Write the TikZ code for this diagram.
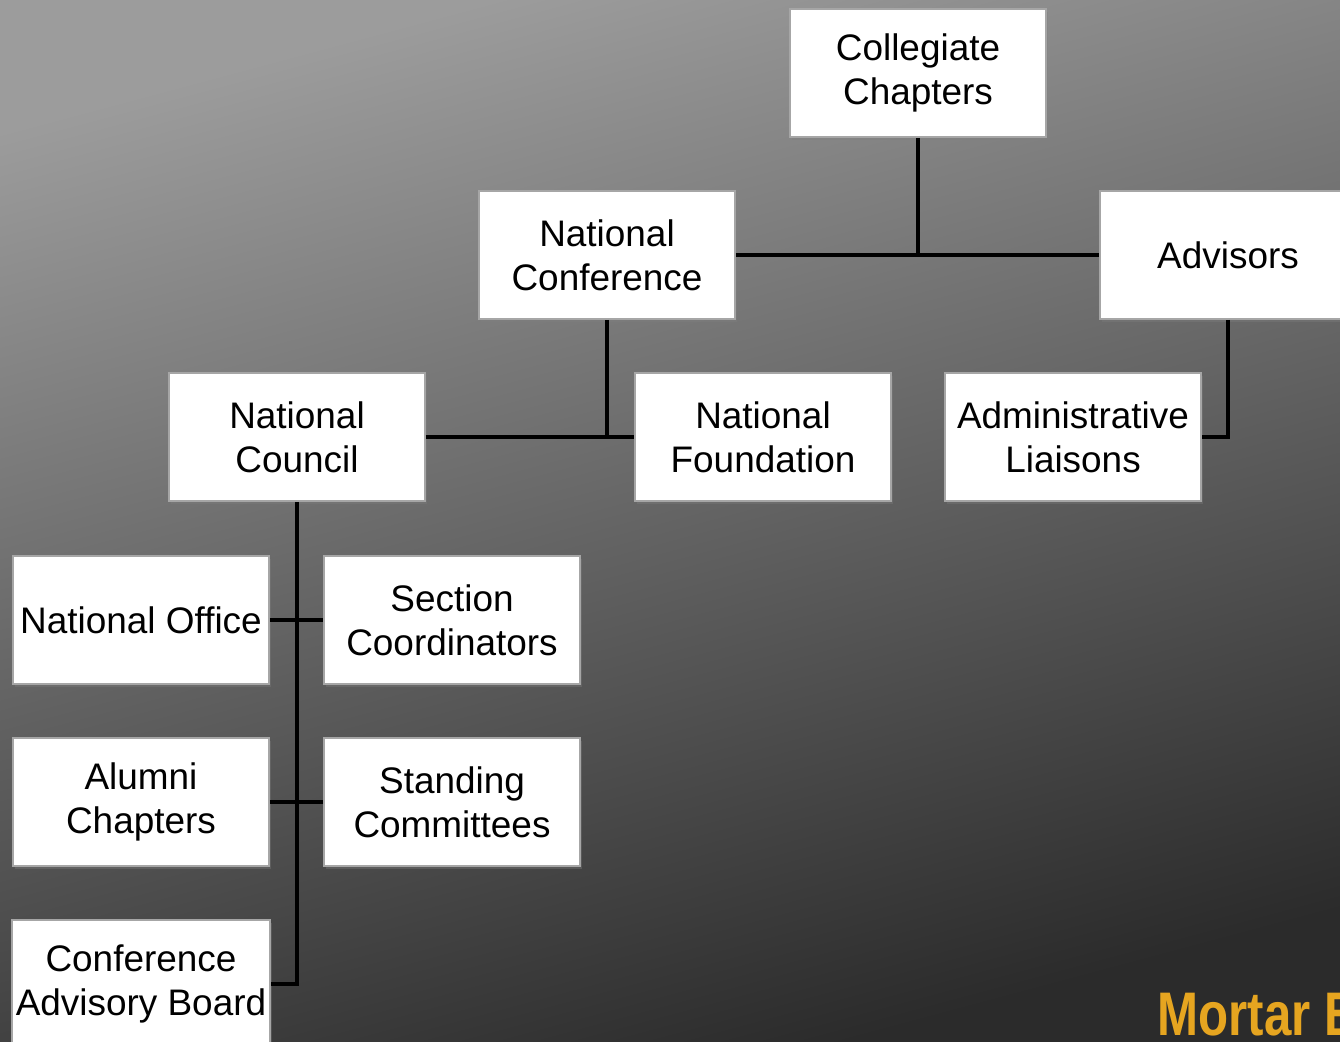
\documentclass[tikz,border=0pt]{standalone}
\usepackage{fontspec}
\setmainfont{Liberation Sans}
\newfontfamily\brandfont[FakeStretch=0.8]{Liberation Sans}
\usepackage{xcolor}
\usetikzlibrary{positioning, shadows}

\definecolor{bgtop}{HTML}{9C9C9C}
\definecolor{bgbottom}{HTML}{2B2B2B}
\definecolor{boxline}{HTML}{A6A6A6}
\definecolor{brandorange}{HTML}{E6A520}

\begin{document}
\begin{tikzpicture}[x=0.01cm, y=-0.01cm,
    unit/.style={rectangle, draw=boxline, line width=0.5pt, fill=white, minimum width=2.56cm, minimum height=1.28cm, align=center, inner sep=1pt, font=\fontsize{10.5}{12.5}\selectfont, drop shadow={shadow xshift=0.6pt, shadow yshift=-0.9pt, opacity=0.35}},
    link/.style={line width=1.4pt, black}]
    \useasboundingbox (0,0) rectangle (1340,1041);
    \clip (0,0) rectangle (1340,1041);
    \shade[top color=bgtop, bottom color=bgbottom, shading angle=15] (0,0) rectangle (1340,1041);

    % top level
    \node[unit] (cc) at (918, 73) {Collegiate\\Chapters};
    \node[unit] (nconf) at (607, 255) {National\\Conference};
    \node[unit] (adv) at (1228, 255) {Advisors};

    % second level
    \node[unit] (ncouncil) at (297, 437) {National\\Council};
    \node[unit] (nfound) at (763, 437) {National\\Foundation};
    \node[unit] (liaison) at (1073, 437) {Administrative\\Liaisons};

    % under the council
    \node[unit] (noffice) at (141, 620) {National Office};
    \node[unit] (section) at (452, 620) {Section\\Coordinators};
    \node[unit] (alumni) at (141, 802) {Alumni\\Chapters};
    \node[unit] (standing) at (452, 802) {Standing\\Committees};
    \node[unit] (cab) at (141, 984) {Conference\\Advisory Board};

    \draw[link] (nconf.east) -- (adv.west);
    \draw[link] (cc.south) -- (cc.south |- adv.west);
    \draw[link] (ncouncil.east) -- (nfound.west);
    \draw[link] (nconf.south) -- (nconf.south |- nfound.west);
    \draw[link] (adv.south) |- (liaison.east);
    \draw[link] (ncouncil.south) |- (cab.east);
    \draw[link] (noffice.east) -- (section.west);
    \draw[link] (alumni.east) -- (standing.west);

    \node[anchor=base west, inner sep=0pt, text=brandorange, font=\brandfont\bfseries\fontsize{17.5}{17.5}\selectfont] (brand) at (1157, 1035) {Mortar B};
\end{tikzpicture}
\end{document}
